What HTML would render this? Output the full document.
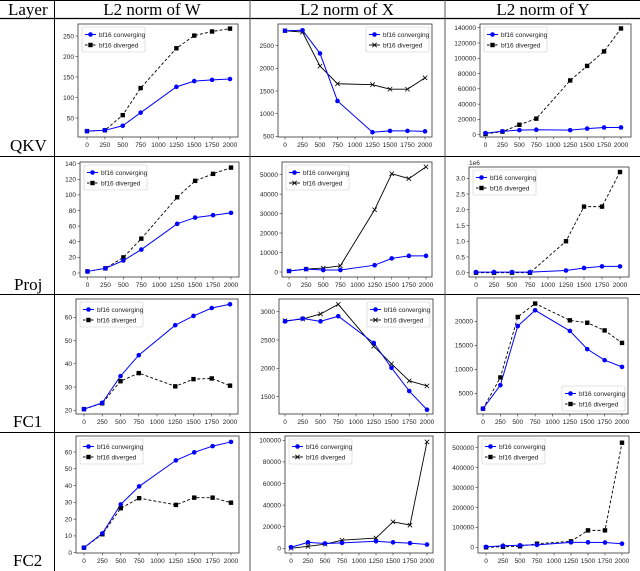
<!DOCTYPE html>
<html><head><meta charset="utf-8">
<style>
html,body{margin:0;padding:0;background:#fff;}
svg{display:block;}
.hdr{font-family:"Liberation Serif",serif;font-size:17px;fill:#000;}
.tk{font-family:"Liberation Sans",sans-serif;font-size:6.5px;fill:#222;}
.lg{font-family:"Liberation Sans",sans-serif;font-size:6.5px;fill:#222;}
</style></head>
<body>
<svg id="fig" width="640" height="571" viewBox="0 0 640 571" xmlns="http://www.w3.org/2000/svg">
<g stroke="#000" stroke-width="1">
<line x1="0" y1="0.5" x2="640" y2="0.5"/>
<line x1="0" y1="18.5" x2="640" y2="18.5" stroke-width="1.3"/>
<line x1="0" y1="156.5" x2="640" y2="156.5"/>
<line x1="0" y1="294.5" x2="640" y2="294.5"/>
<line x1="0" y1="432.5" x2="640" y2="432.5"/>
<line x1="54.5" y1="0" x2="54.5" y2="571"/>
<line x1="250" y1="0" x2="250" y2="571" stroke="#555"/>
<line x1="445" y1="0" x2="445" y2="571" stroke="#555"/>
</g>
<text class="hdr" x="8" y="15">Layer</text>
<text class="hdr" x="152" y="15" text-anchor="middle">L2 norm of W</text>
<text class="hdr" x="347" y="15" text-anchor="middle">L2 norm of X</text>
<text class="hdr" x="543" y="15" text-anchor="middle">L2 norm of Y</text>
<text class="hdr" x="10" y="151">QKV</text>
<text class="hdr" x="14" y="290">Proj</text>
<text class="hdr" x="13" y="427">FC1</text>
<text class="hdr" x="13" y="566">FC2</text>
<g id="charts"></g>
</svg>
<script>
const steps = [0,250,500,750,1250,1500,1750,2000];
const xTickLabels = [0,250,500,750,1000,1250,1500,1750,2000];

const qkvW_conv = [18,20,31,63,126,140,143,145];
const qkvW_div  = [18,20,57,123,220,251,261,268];
const qkvW_ticks = [50,100,150,200,250];
const qkvX_conv = [2830,2840,2330,1280,590,620,620,610];
const qkvX_div  = [2830,2800,2050,1660,1640,1540,1540,1790];
const qkvX_ticks = [500,1000,1500,2000,2500];
const qkvY_conv = [2000,4500,6000,6500,6000,8000,9500,9500];
const qkvY_div  = [1000,4000,13000,21000,71000,90000,109000,139000];
const qkvY_ticks = [0,20000,40000,60000,80000,100000,120000,140000];

const projW_conv = [2,6,16,30,63,71,74,77];
const projW_div  = [2,6,20,44,97,118,127,135];
const projW_ticks = [0,20,40,60,80,100,120,140];
const projX_conv = [500,1500,1000,1000,3500,7000,8300,8300];
const projX_div  = [500,1500,2000,3200,32000,50500,48000,54000];
const projX_ticks = [0,10000,20000,30000,40000,50000];
const projY_conv = [0.02,0.02,0.02,0.02,0.07,0.15,0.2,0.2];
const projY_div  = [0,0,0,0,1.0,2.1,2.1,3.2];
const projY_ticks = [0.0,0.5,1.0,1.5,2.0,2.5,3.0];

const fc1W_conv = [20.5,23.2,34.7,43.7,56.6,60.6,64,65.6];
const fc1W_div  = [20.5,23,32.5,36,30.3,33.4,33.7,30.6];
const fc1W_ticks = [20,30,40,50,60];
const fc1X_conv = [2830,2880,2830,2920,2450,2010,1600,1270];
const fc1X_div  = [2840,2870,2960,3130,2390,2080,1780,1690];
const fc1X_ticks = [1500,2000,2500,3000];
const fc1Y_conv = [1800,6700,19000,22300,18000,14200,11900,10500];
const fc1Y_div  = [1800,8300,20900,23700,20200,19700,18100,15500];
const fc1Y_ticks = [5000,10000,15000,20000];

const fc2W_conv = [3,11.5,28.8,39.5,55,59.8,63.5,66];
const fc2W_div  = [3,11,26.5,32.5,28.5,32.8,32.8,29.8];
const fc2W_ticks = [0,10,20,30,40,50,60];
const fc2X_conv = [1000,5500,4500,5000,6500,5500,4800,3500];
const fc2X_div  = [0,1800,3800,7500,9500,24500,21500,98500];
const fc2X_ticks = [0,20000,40000,60000,80000,100000];
const fc2Y_conv = [2000,8000,10000,12000,25000,25000,24000,18000];
const fc2Y_div  = [0,3000,5000,18000,30000,85000,85000,525000];
const fc2Y_ticks = [0,100000,200000,300000,400000,500000];

const panels = [
 {n:'qkv-w',c:qkvW_conv,d:qkvW_div,t:qkvW_ticks,box:[78,24,238,137],xc:[87,230],yc:[50,118,250,36],st:'sq',lp:'tl'},
 {n:'qkv-x',c:qkvX_conv,d:qkvX_div,t:qkvX_ticks,box:[278,24,432,137],xc:[285,425],yc:[500,136.3,2500,45.7],st:'x',lp:'tr'},
 {n:'qkv-y',c:qkvY_conv,d:qkvY_div,t:qkvY_ticks,box:[480,24,631,137],xc:[485.5,621],yc:[0,134.7,140000,27.7],st:'sq',lp:'tl'},
 {n:'proj-w',c:projW_conv,d:projW_div,t:projW_ticks,box:[80,162,239,277],xc:[87.5,231],yc:[0,273,140,163.7],st:'sq',lp:'tl'},
 {n:'proj-x',c:projX_conv,d:projX_div,t:projX_ticks,box:[282,162,432,277],xc:[289,426],yc:[0,272,50000,174.7],st:'x',lp:'tl'},
 {n:'proj-y',c:projY_conv,d:projY_div,t:projY_ticks,box:[469,167,629,277],xc:[476,620],yc:[0,272.7,3,178.3],st:'sq',exp:'1e6',fmt:1,lp:'tl'},
 {n:'fc1-w',c:fc1W_conv,d:fc1W_div,t:fc1W_ticks,box:[76,299,238,414],xc:[84,230],yc:[20,410.3,60,317.3],st:'sq',lp:'tl'},
 {n:'fc1-x',c:fc1X_conv,d:fc1X_div,t:fc1X_ticks,box:[279,299,433,414],xc:[285,427],yc:[1500,396.7,3000,311.7],st:'x',lp:'tr'},
 {n:'fc1-y',c:fc1Y_conv,d:fc1Y_div,t:fc1Y_ticks,box:[477,298,628,414],xc:[483,622],yc:[5000,393.3,20000,321.3],st:'sq',lp:'br'},
 {n:'fc2-w',c:fc2W_conv,d:fc2W_div,t:fc2W_ticks,box:[76,436,239,553],xc:[84,231],yc:[0,552.7,60,452],st:'sq',lp:'tl'},
 {n:'fc2-x',c:fc2X_conv,d:fc2X_div,t:fc2X_ticks,box:[285,436,433,553],xc:[291,427],yc:[0,548.3,100000,440.3],st:'x',lp:'tl'},
 {n:'fc2-y',c:fc2Y_conv,d:fc2Y_div,t:fc2Y_ticks,box:[478,436,629,553],xc:[486,622],yc:[0,547.3,500000,447.7],st:'sq',lp:'tl'}
];
const NS='http://www.w3.org/2000/svg';
function mk(tag,attrs,parent){const e=document.createElementNS(NS,tag);for(const k in attrs)e.setAttribute(k,attrs[k]);parent.appendChild(e);return e;}
function marker(g,type,x,y){
  if(type==='c'){const m=mk('circle',{cx:x,cy:y,r:2.3,fill:'#0000ff'},g);}
  else if(type==='sq'){const m=mk('rect',{x:x-2.2,y:y-2.2,width:4.4,height:4.4,fill:'#000'},g);}
  else {const m=mk('path',{d:`M${x-2.2},${y-2.2}L${x+2.2},${y+2.2}M${x-2.2},${y+2.2}L${x+2.2},${y-2.2}`,stroke:'#000','stroke-width':0.8,fill:'none'},g);}
}
const root=document.getElementById('charts');
panels.forEach(p=>{
  const g=mk('g',{},root);
  
  
  const [x0,y0,x1,y1]=p.box;
  const sx=v=>p.xc[0]+(p.xc[1]-p.xc[0])*v/2000;
  const sy=v=>p.yc[1]+(p.yc[3]-p.yc[1])*(v-p.yc[0])/(p.yc[2]-p.yc[0]);
  const frame=mk('rect',{x:x0,y:y0,width:x1-x0,height:y1-y0,fill:'none',stroke:'#333','stroke-width':0.8},g);
  
  
  xTickLabels.forEach(v=>{
    const x=sx(v);
    mk('line',{x1:x,y1:y1,x2:x,y2:y1+2.5,stroke:'#333','stroke-width':0.6},g);
    const t=mk('text',{x:x,y:y1+10,'text-anchor':'middle',class:'tk'},g);t.textContent=v;
    
    
  });
  p.t.forEach(v=>{
    const y=sy(v);
    mk('line',{x1:x0-2.5,y1:y,x2:x0,y2:y,stroke:'#333','stroke-width':0.6},g);
    const t=mk('text',{x:x0-4,y:y+2.3,'text-anchor':'end',class:'tk'},g);t.textContent=p.fmt?v.toFixed(1):v;
    
    
  });
  if(p.exp){const t=mk('text',{x:x0,y:y0-2,class:'tk'},g);t.textContent=p.exp;
    
    }
  const pts=a=>a.map((v,i)=>sx(steps[i])+','+sy(v)).join(' ');
  const ld=mk('polyline',{points:pts(p.d),fill:'none',stroke:'#000','stroke-width':0.9,'stroke-dasharray':p.st==='sq'?'3,2':'none'},g);
  
  
  const lc=mk('polyline',{points:pts(p.c),fill:'none',stroke:'#0000ff','stroke-width':1},g);
  
  
  p.d.forEach((v,i)=>marker(g,p.st,sx(steps[i]),sy(v)));
  p.c.forEach((v,i)=>marker(g,'c',sx(steps[i]),sy(v)));
  const lw=63,lh=25;
  const lx=(p.lp==='tr'||p.lp==='br')? x1-lw-3 : x0+4;
  const ly=p.lp==='br'? y1-lh-3 : y0+3;
  const lg=mk('g',{},g);
  
  
  mk('rect',{x:lx,y:ly,width:lw,height:lh,fill:'#fff',stroke:'#ccc','stroke-width':0.6,rx:1.5},lg);
  const e1=mk('g',{},lg);
  
  
  mk('line',{x1:lx+3,y1:ly+7.5,x2:lx+14,y2:ly+7.5,stroke:'#0000ff','stroke-width':1},e1);
  marker(e1,'c',lx+8.5,ly+7.5);
  const t1=mk('text',{x:lx+17,y:ly+9.8,class:'lg'},e1);t1.textContent='bf16 converging';
  const e2=mk('g',{},lg);
  
  
  mk('line',{x1:lx+3,y1:ly+18,x2:lx+14,y2:ly+18,stroke:'#000','stroke-width':0.9,'stroke-dasharray':p.st==='sq'?'2.5,1.5':'none'},e2);
  marker(e2,p.st,lx+8.5,ly+18);
  const t2=mk('text',{x:lx+17,y:ly+20.3,class:'lg'},e2);t2.textContent='bf16 diverged';
});
</script>
</body></html>
